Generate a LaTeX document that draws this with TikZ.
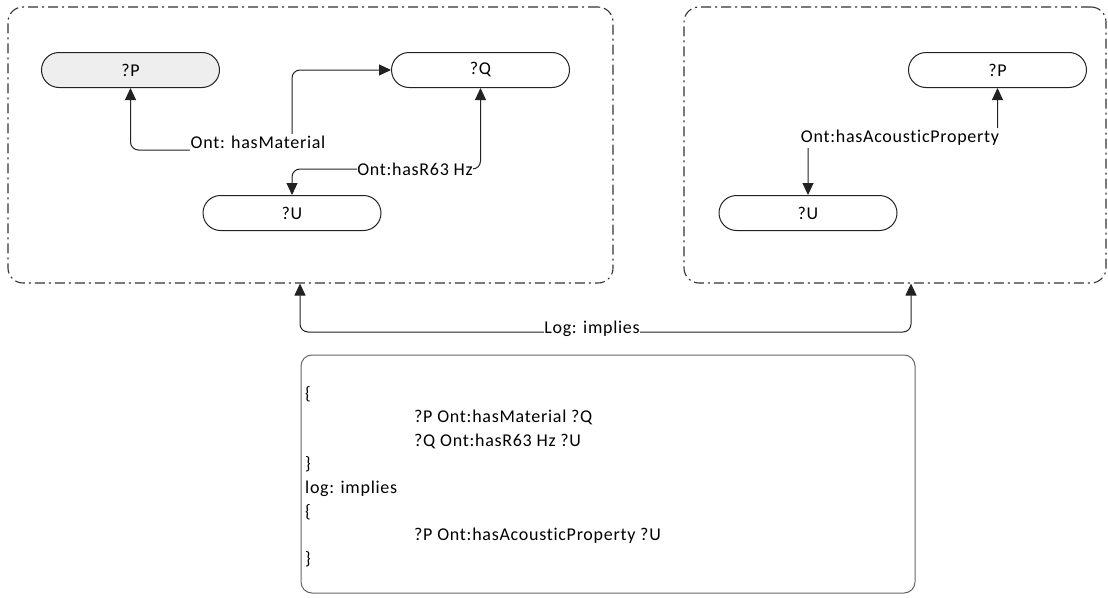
\documentclass[tikz,border=0pt]{standalone}
\usepackage{fontspec}
\setmainfont{Carlito}[LetterSpace=4, Ligatures=NoCommon]
\usetikzlibrary{arrows.meta}
\definecolor{edge}{HTML}{222222}
\definecolor{frame}{HTML}{333333}
\definecolor{shade}{HTML}{EEEEEE}
\tikzset{
  pill/.style={draw=edge, line width=1pt, rounded corners=17.5pt,
    minimum width=178pt, minimum height=35pt, inner sep=0pt},
  groupbox/.style={draw=frame, line width=1.1pt, rounded corners=15pt,
    dash pattern=on 10pt off 4pt on 2pt off 4pt, inner sep=0pt},
  codebox/.style={draw=frame!75, line width=1pt, rounded corners=11pt, inner sep=0pt},
  link/.style={draw=edge, line width=1pt, rounded corners=8pt,
    {Triangle[width=11pt,length=12pt]}-{Triangle[width=11pt,length=12pt]}},
  lbl/.style={fill=white, inner xsep=0.5pt, inner ysep=1pt, text height=13pt, text depth=5pt, anchor=base},
  codeline/.style={anchor=base west, inner sep=0pt}
}
\begin{document}
\begin{tikzpicture}[x=1pt, y=-1pt, font=\fontsize{18}{22}\selectfont]
\useasboundingbox (0,0) rectangle (1108,597);

% left pattern group
\node[groupbox, minimum width=605pt, minimum height=276pt] (G1) at (310.5,145) {};
\node[pill, fill=shade] (P1) at (130.5,70) {?P};
\node[pill] (Q1) at (480.5,70) {?Q};
\node[pill] (U1) at (292,213) {?U};

\coordinate (m1) at (292,150);
\draw[link] (P1.south) |- (m1) |- (Q1.west);
\node[lbl] (L1) at (258,148) {Ont: hasMaterial};

\coordinate (m2) at (400,169);
\draw[link] (Q1.south) |- (m2) -| (U1.north);
\node[lbl] (L2) at (415,175) {Ont:hasR63 Hz};

% right pattern group
\node[groupbox, minimum width=422pt, minimum height=276pt] (G2) at (895,145) {};
\node[pill] (P2) at (997.5,70) {?P};
\node[pill] (U2) at (808,213) {?U};

\coordinate (m3) at (900,137);
\draw[link] (P2.south) |- (m3) -| (U2.north);
\node[lbl] (L3) at (900,142) {Ont:hasAcousticProperty};

% implication between the groups
\coordinate (c1) at (300,332);
\coordinate (c2) at (911,332);
\draw[link] (c1 |- G1.south) -- (c1) -- (c2) -- (c2 |- G2.south);
\node[lbl] (L4) at (592,333) {Log: implies};

% rule text
\node[codebox, minimum width=614pt, minimum height=238pt] (R) at (608,474) {};
\node[codeline] (r1) at (305,399) {\{};
\node[codeline] (r2) at (414,422.6) {?P Ont:hasMaterial ?Q};
\node[codeline] (r3) at (414,446.2) {?Q Ont:hasR63 Hz ?U};
\node[codeline] (r4) at (305,469.8) {\}};
\node[codeline] (r5) at (305,493.4) {log: implies};
\node[codeline] (r6) at (305,517) {\{};
\node[codeline] (r7) at (414,540.6) {?P Ont:hasAcousticProperty ?U};
\node[codeline] (r8) at (305,564.2) {\}};
\end{tikzpicture}
\end{document}
